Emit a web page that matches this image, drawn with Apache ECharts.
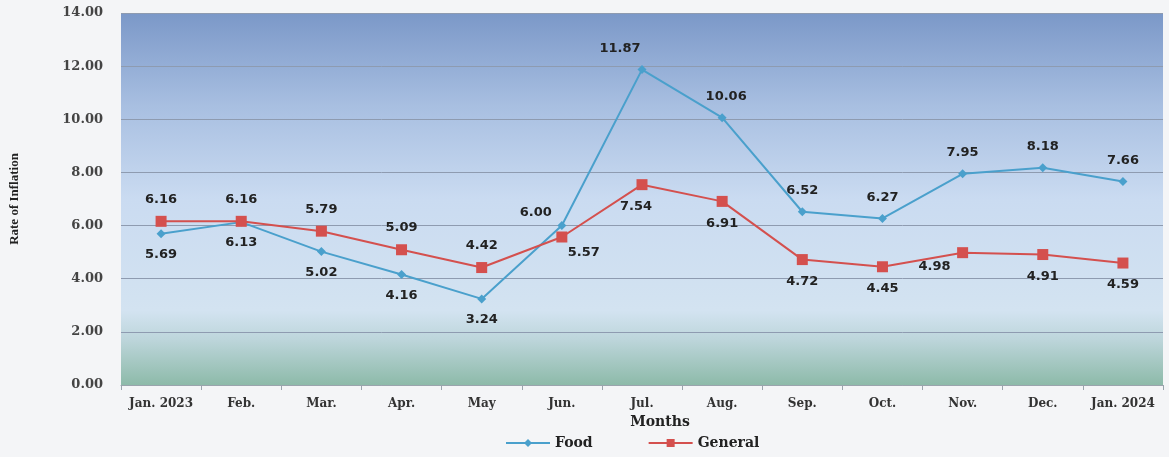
<!DOCTYPE html>
<html><head><meta charset="utf-8">
<script src="https://cdn.jsdelivr.net/npm/echarts@6/dist/echarts.min.js"></script>
<style>html,body{margin:0;padding:0;background:#f4f5f7;}#c{width:1169px;height:457px;}</style>
</head><body><div id="c"></div>
<script>
const months = ['Jan. 2023','Feb.','Mar.','Apr.','May','Jun.','Jul.','Aug.','Sep.','Oct.','Nov.','Dec.','Jan. 2024'];
const food = [5.69,6.13,5.02,4.16,3.24,6.00,11.87,10.06,6.52,6.27,7.95,8.18,7.66];
const general = [6.16,6.16,5.79,5.09,4.42,5.57,7.54,6.91,4.72,4.45,4.98,4.91,4.59];
const yTicks = [0,2,4,6,8,10,12,14];
const foodLabelPos = ['bottom','bottom','bottom','bottom','bottom','top','top','top','top','top','top','top','top'];
const genLabelPos = ['top','top','top','top','top','bottom','bottom','bottom','bottom','bottom','bottom','bottom','bottom'];
const foodLabelShift = [[0,0],[0,0],[0,0],[0,0],[0,0],[-26,8],[-22,0],[4,0],[0,0],[0,0],[0,0],[0,0],[0,0]];
const genLabelShift = [[0,0],[0,0],[0,0],[0,0],[0,0],[22,-6],[-6,0],[0,0],[0,0],[0,0],[-28,-8],[0,0],[0,0]];

const valFont = {fontFamily:'DejaVu Sans', fontWeight:'bold', fontSize:13, color:'#222'};
const axFont = {fontFamily:'DejaVu Serif', fontWeight:'bold', color:'#333'};
const chart = echarts.init(document.getElementById('c'));
chart.setOption({
  animation:false,
  backgroundColor:'#f4f5f7',
  grid:{left:121,right:6,top:13,bottom:72,show:true,borderWidth:0,
    backgroundColor:{type:'linear',x:0,y:0,x2:0,y2:1,colorStops:[
      {offset:0,color:'#7b98c8'},{offset:0.25,color:'#a8bfe1'},{offset:0.5,color:'#cadbf1'},
      {offset:0.8,color:'#d3e3f1'},{offset:0.88,color:'#bcd5da'},{offset:1,color:'#8dbaa9'}]}},
  legend:{bottom:2,left:500,itemGap:55,itemWidth:44,itemHeight:10,
    textStyle:{...axFont,fontSize:14,color:'#222'},
    data:['Food','General']},
  xAxis:{type:'category',data:months,name:'Months',nameLocation:'middle',nameGap:30,
    nameTextStyle:{...axFont,fontSize:14,color:'#222',padding:[0,0,0,36]},
    axisLine:{show:true,lineStyle:{color:'#9aa4ad'}},axisTick:{show:true,lineStyle:{color:'#9aa4ad'}},
    axisLabel:{...axFont,fontSize:12,margin:13,interval:0,hideOverlap:false}},
  yAxis:{type:'value',min:0,max:14,interval:2,name:'Rate of Inflation',nameLocation:'middle',nameGap:100,
    nameTextStyle:{fontFamily:'Liberation Serif',fontWeight:'bold',fontSize:13,color:'#222'},
    axisLine:{show:false},axisTick:{show:false},
    splitLine:{lineStyle:{color:'#8e9bb0',width:1}},
    axisLabel:{...axFont,fontSize:13,color:'#444',margin:18,
      formatter:v=>yTicks.includes(v)?v.toFixed(2):''}},
  series:[
    {name:'Food',type:'line',data:food.map((v,i)=>({value:v,label:{position:foodLabelPos[i],offset:foodLabelShift[i]}})),
      symbol:'diamond',symbolSize:9,itemStyle:{color:'#4aa0cc'},lineStyle:{color:'#4aa0cc',width:2},
      label:{show:true,distance:10,formatter:p=>p.value.toFixed(2),...valFont}},
    {name:'General',type:'line',data:general.map((v,i)=>({value:v,label:{position:genLabelPos[i],offset:genLabelShift[i]}})),
      symbol:'rect',symbolSize:11,itemStyle:{color:'#d4504e'},lineStyle:{color:'#d4504e',width:2},
      label:{show:true,distance:10,formatter:p=>p.value.toFixed(2),...valFont}}
  ]
});
</script></body></html>
